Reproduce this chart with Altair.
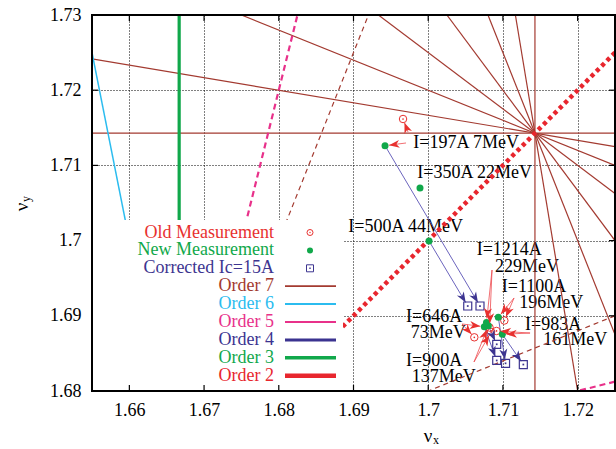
import math
import altair as alt
import pandas as pd

# ---------------- data ----------------
label_line1 = ["I=197A 7MeV", "I=350A 22MeV", "I=500A 44MeV", "I=646A", "I=900A", "I=983A", "I=1100A", "I=1214A"]
label_line2 = ["", "", "", "73MeV", "137MeV", "161MeV", "196MeV", "229MeV"]

new_x = [1.69422, 1.69890, 1.70011, 1.70751, 1.70805, 1.70992, 1.70938, 1.70780]
new_y = [1.71262, 1.70699, 1.69995, 1.68855, 1.68868, 1.68754, 1.68980, 1.68911]

old_x = [1.69663, None, None, 1.70617, 1.70841, 1.70914, 1.71019, 1.70821]
old_y = [1.71617, None, None, 1.68714, 1.68785, 1.68798, 1.68937, 1.68844]

corr_x = [1.70693, None, 1.70529, 1.70917, 1.70917, 1.71273, 1.71035, None]
corr_y = [1.69130, None, 1.69130, 1.68406, 1.68621, 1.68352, 1.68368, None]

# annotation anchors (data coordinates)
lab1_x = [1.69801, 1.69854, 1.68931, 1.69703, 1.69703, 1.71296, 1.70984, 1.70649]
lab1_y = [1.71294, 1.70903, 1.70185, 1.68980, 1.68403, 1.68878, 1.69387, 1.69875]
lab2_x = [None, None, None, 1.69766, 1.69779, 1.71541, 1.71219, 1.70894]
lab2_y = [None, None, None, 1.68767, 1.68182, 1.68672, 1.69174, 1.69653]

# red pointer arrows start (from label to old / new points)
ptr_old_x = [1.69730, None, None, 1.70453, 1.70613, 1.71363, 1.71149, 1.70854]
ptr_old_y = [1.71444, None, None, 1.68891, 1.68386, 1.68771, 1.69237, 1.69609]
ptr_new_x = [1.69703, None, None, 1.70453, 1.70613, 1.71363, 1.71149, 1.70854]
ptr_new_y = [1.71298, None, None, 1.68891, 1.68386, 1.68771, 1.69237, 1.69609]

# resonance lines m*nux + n*nuy = p
res_order = [7, 7, 7, 7, 7, 7, 7, 7, 7, 7, 6, 5, 5, 3, 3, 2]
res_m = [7, 0, 6, 5, 4, 3, 2, 1, 5, 2, 5, 4, 1, 3, 2, 1]
res_n = [0, 7, 1, 2, 3, 4, 5, 6, -2, -5, 1, -1, -4, 0, 1, -1]
res_p = [12, 12, 12, 12, 12, 12, 12, 12, 5, -5, 10, 5, -5, 5, 5, 0]

x_ticks = [1.66, 1.67, 1.68, 1.69, 1.70, 1.71, 1.72]
y_ticks = [1.68, 1.69, 1.70, 1.71, 1.72, 1.73]

legend_names = ["Old Measurement", "New Measurement", "Corrected Ic=15A",
                "Order 7", "Order 6", "Order 5", "Order 4", "Order 3", "Order 2"]

# ---------------- styling ----------------
FONT = "Liberation Serif"
XD = [1.655, 1.725]
YD = [1.68, 1.73]
PW, PH = 523, 376
KX = PW / (XD[1] - XD[0])
KY = PH / (YD[1] - YD[0])

RED = "#e8312f"
GREEN = "#10a84a"
NAVY = "#3d3590"
ORDER_COLORS = {7: "#a33a30", 6: "#2bbcef", 5: "#e8318a", 4: "#3b3390", 3: "#11a84b", 2: "#e8262e"}
ORDER_WIDTH = {7: 1.2, 6: 1.5, 5: 2.2, 3: 3.2, 2: 4.5}
legend_colors = [RED, GREEN, NAVY] + [ORDER_COLORS[o] for o in (7, 6, 5, 4, 3, 2)]
legend_line_w = [None, None, None, 1.8, 2.0, 2.0, 3.0, 3.5, 4.5]

XS = alt.Scale(domain=XD, nice=False, zero=False)
YS = alt.Scale(domain=YD, nice=False, zero=False)
AXX = alt.Axis(values=x_ticks, format=".2~f", grid=True, gridDash=[1, 2], gridColor="black",
               gridOpacity=1, gridWidth=1, ticks=False, tickSize=0, domain=False, title=None,
               labelFont=FONT, labelFontSize=18, labelColor="black", labelPadding=10)
AXY = alt.Axis(values=y_ticks, format=".2~f", grid=True, gridDash=[1, 2], gridColor="black",
               gridOpacity=1, gridWidth=1, ticks=False, tickSize=0, domain=False, title=None,
               labelFont=FONT, labelFontSize=18, labelColor="black", labelPadding=11)


def X(f):
    return alt.X(f, type="quantitative", scale=XS, axis=AXX)


def Y(f):
    return alt.Y(f, type="quantitative", scale=YS, axis=AXY)


def clip_line(m, n, p):
    pts = []
    if n != 0:
        for xv in XD:
            yv = (p - m * xv) / n
            if YD[0] - 1e-12 <= yv <= YD[1] + 1e-12:
                pts.append((xv, yv))
    if m != 0:
        for yv in YD:
            xv = (p - n * yv) / m
            if XD[0] - 1e-12 <= xv <= XD[1] + 1e-12:
                pts.append((xv, yv))
    uniq = []
    for q in pts:
        if all(abs(q[0] - u[0]) > 1e-9 or abs(q[1] - u[1]) > 1e-9 for u in uniq):
            uniq.append(q)
    return uniq[:2] if len(uniq) >= 2 else None


res_rows = []
for o, m, n, p in zip(res_order, res_m, res_n, res_p):
    seg = clip_line(m, n, p)
    if seg is None:
        continue
    diff = (m * n) < 0
    res_rows.append(dict(order=o, diff=diff, x=seg[0][0], y=seg[0][1], x2=seg[1][0], y2=seg[1][1]))
res_df = pd.DataFrame(res_rows)

layers = []

# annotation labels (drawn beneath lines)
lab_rows = []
for i in range(len(label_line1)):
    lab_rows.append(dict(x=lab1_x[i], y=lab1_y[i], t=label_line1[i]))
    if label_line2[i]:
        lab_rows.append(dict(x=lab2_x[i], y=lab2_y[i], t=label_line2[i]))
layers.append(alt.Chart(pd.DataFrame(lab_rows)).mark_text(
    align="left", baseline="middle", font=FONT, fontSize=18, color="black"
).encode(x=X("x"), y=Y("y"), text="t:N"))

# resonance lines
for o in (7, 6, 5, 3, 2):
    for diff in (False, True):
        sub = res_df[(res_df.order == o) & (res_df["diff"] == diff)]
        if len(sub) == 0:
            continue
        kw = dict(color=ORDER_COLORS[o], strokeWidth=ORDER_WIDTH[o], clip=True)
        if diff:
            if o == 2:
                kw["strokeDash"] = [4, 3.5]
            elif o == 5:
                kw["strokeDash"] = [6, 4]
            else:
                kw["strokeDash"] = [5, 4]
        layers.append(alt.Chart(sub).mark_rule(**kw).encode(
            x=X("x"), y=Y("y"), x2="x2:Q", y2="y2:Q"))

HEAD = "M0,0.4L-0.4,1.45L0,1.15L0.4,1.45Z"
GAP = 4.0


def arrow(sx, sy, tx, ty):
    dxp = (tx - sx) * KX
    dyp = (ty - sy) * KY
    L = math.hypot(dxp, dyp)
    ux, uy = dxp / L, dyp / L
    return dict(x=sx, y=sy, x2=tx - ux * GAP / KX, y2=ty - uy * GAP / KY,
                hx=tx, hy=ty, ang=math.degrees(math.atan2(dxp, dyp)) % 360)


blue_rows = []
for i in range(len(new_x)):
    if corr_x[i] is not None:
        blue_rows.append(arrow(new_x[i], new_y[i], corr_x[i], corr_y[i]))
red_rows = []
for i in range(len(new_x)):
    if ptr_old_x[i] is not None and old_x[i] is not None:
        red_rows.append(arrow(ptr_old_x[i], ptr_old_y[i], old_x[i], old_y[i]))
    if ptr_new_x[i] is not None:
        red_rows.append(arrow(ptr_new_x[i], ptr_new_y[i], new_x[i], new_y[i]))
blue_df = pd.DataFrame(blue_rows)
red_df = pd.DataFrame(red_rows)

layers.append(alt.Chart(blue_df).mark_rule(color="#5a52b5", strokeWidth=0.9).encode(
    x=X("x"), y=Y("y"), x2="x2:Q", y2="y2:Q"))
layers.append(alt.Chart(red_df).mark_rule(color="#ee4a4f", strokeWidth=0.8).encode(
    x=X("x"), y=Y("y"), x2="x2:Q", y2="y2:Q"))

# points
pts_new = pd.DataFrame(dict(x=new_x, y=new_y))
pts_old = pd.DataFrame(dict(x=old_x, y=old_y)).dropna()
pts_corr = pd.DataFrame(dict(x=corr_x, y=corr_y)).dropna()

layers.append(alt.Chart(pts_old).mark_point(shape="circle", filled=False, size=56, strokeWidth=1, color=RED, opacity=1).encode(x=X("x"), y=Y("y")))
layers.append(alt.Chart(pts_old).mark_point(shape="circle", filled=True, size=3, color=RED, opacity=1).encode(x=X("x"), y=Y("y")))
layers.append(alt.Chart(pts_corr).mark_point(shape="square", filled=False, size=64, strokeWidth=1.2, color=NAVY, opacity=1).encode(x=X("x"), y=Y("y")))
layers.append(alt.Chart(pts_corr).mark_point(shape="square", filled=True, size=3, color=NAVY, opacity=1).encode(x=X("x"), y=Y("y")))
layers.append(alt.Chart(pts_new).mark_point(shape="circle", filled=True, size=49, color=GREEN, opacity=1).encode(x=X("x"), y=Y("y")))

# arrowheads
layers.append(alt.Chart(blue_df).mark_point(shape=HEAD, filled=True, size=400, color=NAVY, opacity=1).encode(
    x=X("hx"), y=Y("hy"), angle=alt.Angle("ang:Q", scale=None)))
layers.append(alt.Chart(red_df).mark_point(shape=HEAD, filled=True, size=400, color=RED, opacity=1).encode(
    x=X("hx"), y=Y("hy"), angle=alt.Angle("ang:Q", scale=None)))

# inward ticks (left/top/right before the key box, bottom after it)
xt = pd.DataFrame(dict(v=x_ticks))
yt = pd.DataFrame(dict(v=y_ticks))
layers.append(alt.Chart(xt).mark_rule(color="black", strokeWidth=1.2).encode(x=X("v"), y=alt.value(0), y2=alt.value(6)))
layers.append(alt.Chart(yt).mark_rule(color="black", strokeWidth=1.2).encode(y=Y("v"), x=alt.value(0), x2=alt.value(6)))
layers.append(alt.Chart(yt).mark_rule(color="black", strokeWidth=1.2).encode(y=Y("v"), x=alt.value(PW), x2=alt.value(PW - 6)))

one = pd.DataFrame(dict(a=[0]))
# opaque key box
layers.append(alt.Chart(one).mark_rect(color="white", opacity=1).encode(
    x=alt.value(0), x2=alt.value(251), y=alt.value(205), y2=alt.value(PH)))
layers.append(alt.Chart(xt).mark_rule(color="black", strokeWidth=1.2).encode(x=X("v"), y=alt.value(PH), y2=alt.value(PH - 6)))

# legend
LEG_TOP = 217.5
LEG_STEP = 17.9
for i, (name, col) in enumerate(zip(legend_names, legend_colors)):
    yy = LEG_TOP + LEG_STEP * i
    layers.append(alt.Chart(one).mark_text(text=name, align="right", baseline="middle",
                                           font=FONT, fontSize=18, color=col).encode(
        x=alt.value(182), y=alt.value(yy)))
    if legend_line_w[i] is not None:
        layers.append(alt.Chart(one).mark_rule(color=col, strokeWidth=legend_line_w[i]).encode(
            x=alt.value(193), x2=alt.value(244), y=alt.value(yy)))
    elif i == 0:
        layers.append(alt.Chart(one).mark_point(shape="circle", filled=False, size=36, strokeWidth=1, color=col, opacity=1).encode(x=alt.value(218), y=alt.value(yy)))
        layers.append(alt.Chart(one).mark_point(shape="circle", filled=True, size=2, color=col, opacity=1).encode(x=alt.value(218), y=alt.value(yy)))
    elif i == 1:
        layers.append(alt.Chart(one).mark_point(shape="circle", filled=True, size=36, color=col, opacity=1).encode(x=alt.value(218), y=alt.value(yy)))
    else:
        layers.append(alt.Chart(one).mark_point(shape="square", filled=False, size=49, strokeWidth=1, color=col, opacity=1).encode(x=alt.value(218), y=alt.value(yy)))
        layers.append(alt.Chart(one).mark_point(shape="square", filled=True, size=2, color=col, opacity=1).encode(x=alt.value(218), y=alt.value(yy)))

# frame on top
layers.append(alt.Chart(one).mark_rect(fillOpacity=0, stroke="black", strokeWidth=2).encode(
    x=alt.value(0), x2=alt.value(PW), y=alt.value(0), y2=alt.value(PH)))

# axis titles (nu with subscripts)
layers.append(alt.Chart(one).mark_text(text="ν", font=FONT, fontSize=19, align="center", baseline="middle", color="black").encode(x=alt.value(336), y=alt.value(421)))
layers.append(alt.Chart(one).mark_text(text="x", font=FONT, fontSize=12, align="left", baseline="middle", color="black").encode(x=alt.value(341), y=alt.value(425)))
layers.append(alt.Chart(one).mark_text(text="ν", font=FONT, fontSize=19, align="center", baseline="middle", angle=270, color="black").encode(x=alt.value(-70), y=alt.value(192)))
layers.append(alt.Chart(one).mark_text(text="y", font=FONT, fontSize=12, align="left", baseline="middle", angle=270, color="black").encode(x=alt.value(-66), y=alt.value(187)))

chart = alt.layer(*layers).properties(
    width=PW, height=PH,
    autosize=alt.AutoSizeParams(type="none"),
    padding={"left": 92, "top": 15, "right": 1, "bottom": 58},
    background="white",
).configure_view(stroke=None)

chart.save("out.html", embed_options={"renderer": "svg", "actions": False})
